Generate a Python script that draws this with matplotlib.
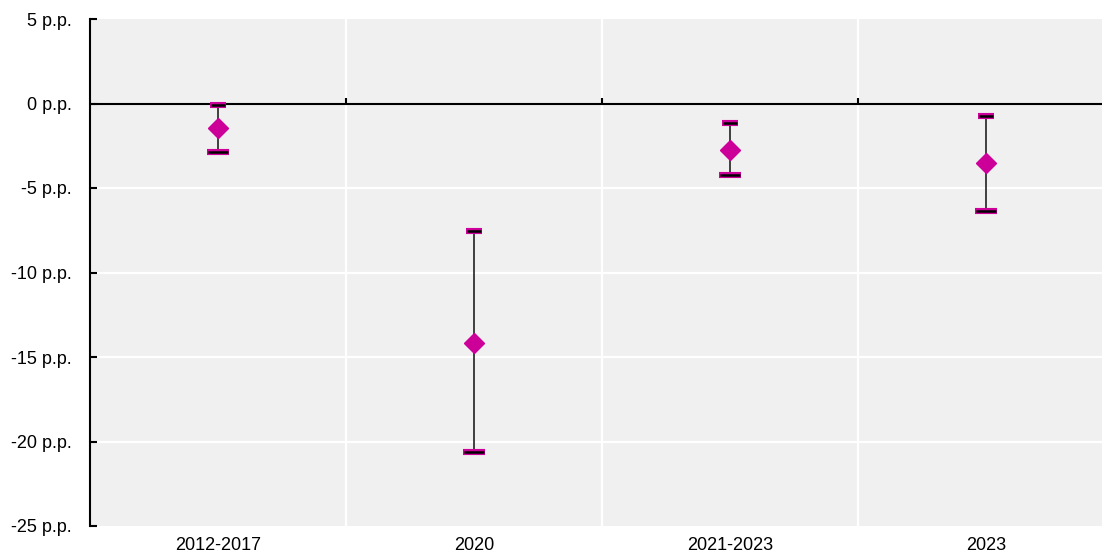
import matplotlib.pyplot as plt

periods = ['2012-2017', '2020', '2021-2023', '2023']
central = [-1.45, -14.15, -2.75, -3.55]
upper = [-0.1, -7.55, -1.15, -0.75]
lower = [-2.85, -20.6, -4.25, -6.35]

plt.rcParams['font.family'] = ['Liberation Sans', 'DejaVu Sans']

magenta = '#cc0099'

fig = plt.figure(figsize=(11.02, 5.55), dpi=100)
ax = fig.add_axes([90 / 1102, 29 / 555, 1012 / 1102, 507 / 555])
ax.set_facecolor('#f0f0f0')

x = range(len(periods))
bounds = [i + 0.5 for i in range(len(periods) - 1)]

# grid
for yv in [-5, -10, -15, -20]:
    ax.axhline(yv, color='white', lw=1.6, zorder=1)
for b in bounds:
    ax.axvline(b, color='white', lw=1.6, zorder=1)

ax.axhline(0, color='black', lw=1.5, zorder=2)
ax.vlines(bounds, 0, 0.3, color='black', lw=1.5, zorder=2)

# ranges with caps
ax.vlines(x, lower, upper, color='#222222', lw=1.2, zorder=3)
for i in x:
    ax.hlines(upper[i], i - 0.032, i + 0.032, color=magenta, lw=4.4, zorder=4)
    ax.hlines(upper[i], i - 0.026, i + 0.026, color='black', lw=1.8, zorder=5)
    ax.hlines(lower[i], i - 0.044, i + 0.044, color=magenta, lw=4.4, zorder=4)
    ax.hlines(lower[i], i - 0.038, i + 0.038, color='black', lw=1.8, zorder=5)
ax.plot(x, central, linestyle='none', marker='D', ms=9.7, color=magenta, zorder=6)

ax.set_xlim(-0.5, -0.5 + 1012 / 256)
ax.set_ylim(-25, 5)
ax.set_yticks([5, 0, -5, -10, -15, -20, -25])
ax.set_yticklabels([f'{v} p.p.' for v in [5, 0, -5, -10, -15, -20, -25]])
ax.set_xticks(list(x))
ax.set_xticklabels(periods)

for s in ['top', 'right', 'bottom']:
    ax.spines[s].set_visible(False)
ax.spines['left'].set_linewidth(1.5)
ax.tick_params(axis='y', direction='in', length=5, width=1.5, pad=13, labelsize=13)
ax.tick_params(axis='x', length=0, pad=8, labelsize=13)

fig.savefig('out.png', dpi=100)
